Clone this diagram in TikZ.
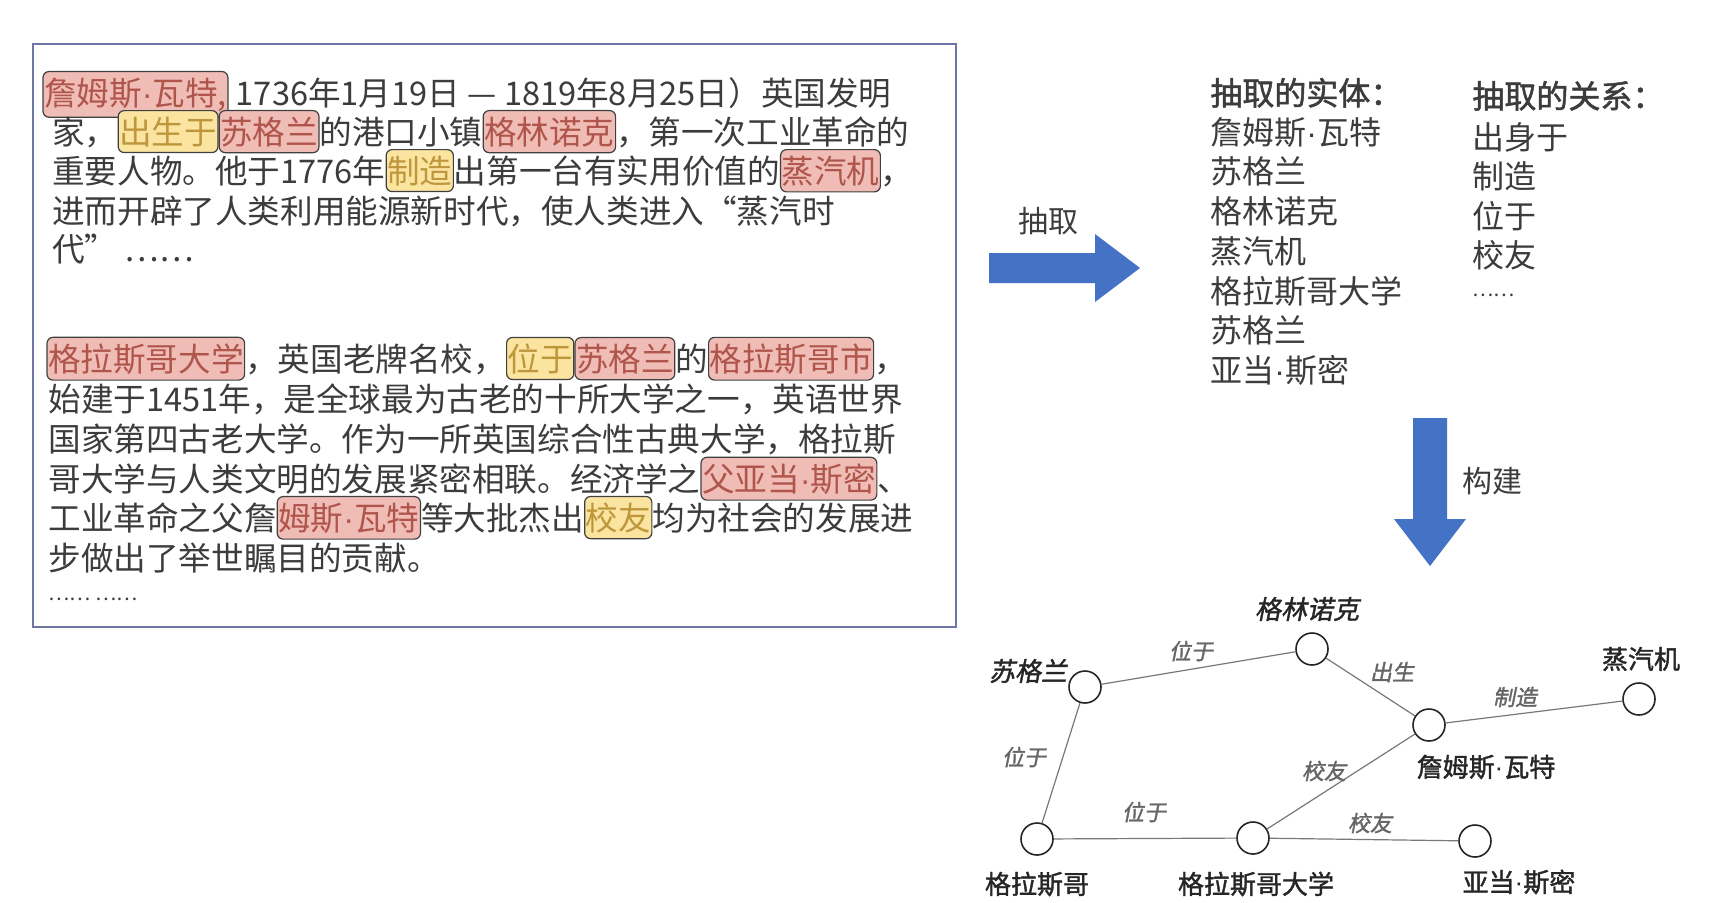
\documentclass[tikz,border=0pt]{standalone}
\usepackage{fontspec}
\setmainfont{Noto Sans CJK SC}
\newfontfamily\cjkit[FakeSlant=0.2,FakeBold=1.5]{Noto Sans CJK SC}
\newfontfamily\cjkbd[FakeBold=1.5]{Noto Sans CJK SC}
\newfontfamily\latdot{Liberation Sans}
\newcommand\md{{\latdot ·}}
\definecolor{txt}{RGB}{60,60,60}
\definecolor{hlred}{RGB}{240,188,182}
\definecolor{hlredt}{RGB}{175,85,75}
\definecolor{hlyel}{RGB}{250,228,160}
\definecolor{hlyelt}{RGB}{190,150,60}
\definecolor{framec}{RGB}{110,118,165}
\definecolor{arrowc}{RGB}{68,114,196}
\definecolor{edgec}{RGB}{120,120,120}
\tikzset{
 hlr/.style={fill=hlred,draw=black!75,rounded corners=3pt,inner xsep=0.5pt,inner ysep=3pt,text=hlredt,line width=0.6pt},
 hly/.style={fill=hlyel,draw=black!75,rounded corners=3pt,inner xsep=0.5pt,inner ysep=3pt,text=hlyelt,line width=0.6pt},
 line/.style={anchor=base west,inner sep=0,text=txt,font=\fontsize{16.3}{18}\selectfont},
 lst/.style={anchor=base west,inner sep=0,text=txt,font=\fontsize{16}{18}\selectfont},
 ent/.style={circle,draw=black!85,line width=0.8pt,minimum size=16pt,inner sep=0,fill=white},
 nlab/.style={text=black!85,font=\cjkbd\fontsize{13}{15}\selectfont},
 nlabi/.style={text=black!85,font=\cjkit\fontsize{13}{15}\selectfont},
 elab/.style={text=black!60,font=\cjkit\fontsize{11}{13}\selectfont},
 rel/.style={draw=edgec,line width=0.6pt},
 bigarrow/.style={fill=arrowc,draw=none}
}
\newcommand\hR[1]{\tikz[baseline=(hh.base)]\node[hlr](hh){#1};}
\newcommand\hY[1]{\tikz[baseline=(hh.base)]\node[hly](hh){#1};}
\begin{document}
\begin{tikzpicture}[x=0.5pt,y=-0.5pt]
\useasboundingbox (0,0) rectangle (1724,902);
\fill[white] (0,0) rectangle (1724,902);
\draw[framec,line width=1.2pt] (33,44) rectangle (956,627);
% paragraph 1
\node[line] (l1) at (42,105) {\hR{詹姆斯\md 瓦特,} 1736年1月19日 — 1819年8月25日）英国发明};
\node[line] (l2) at (52,144) {家，\hY{出生于}\hR{苏格兰}的港口小镇\hR{格林诺克}，第一次工业革命的};
\node[line] (l3) at (52,183) {重要人物。他于1776年\hY{制造}出第一台有实用价值的\hR{蒸汽机}，};
\node[line] (l4) at (52,223) {进而开辟了人类利用能源新时代，使人类进入“蒸汽时};
\node[line] (l5) at (52,261) {代” ……};
% paragraph 2
\node[line] (m1) at (46,371) {\hR{格拉斯哥大学}，英国老牌名校，\hY{位于}\hR{苏格兰}的\hR{格拉斯哥市}，};
\node[line] (m2) at (48,411) {始建于1451年，是全球最为古老的十所大学之一，英语世界};
\node[line] (m3) at (48,451) {国家第四古老大学。作为一所英国综合性古典大学，格拉斯};
\node[line] (m4) at (48,491) {哥大学与人类文明的发展紧密相联。经济学之\hR{父亚当\md 斯密}、};
\node[line] (m5) at (48,530) {工业革命之父詹\hR{姆斯\md 瓦特}等大批杰出\hY{校友}均为社会的发展进};
\node[line] (m6) at (48,570) {步做出了举世瞩目的贡献。};
\node[line,font=\fontsize{10}{12}\selectfont] (m7) at (48,600) {…… ……};
% arrow right
\fill[bigarrow] (989,253) -- (1095,253) -- (1095,234) -- (1140,268) -- (1095,302) -- (1095,283) -- (989,283) -- cycle;
\node[text=txt,font=\fontsize{15}{17}\selectfont] (ext) at (1048,221) {抽取};
% lists
\node[lst,font=\cjkbd\fontsize{16}{18}\selectfont] (eh) at (1210,105) {抽取的实体：};
\node[lst] (e1) at (1210,144) {詹姆斯\md 瓦特};
\node[lst] (e2) at (1210,183) {苏格兰};
\node[lst] (e3) at (1210,223) {格林诺克};
\node[lst] (e4) at (1210,263) {蒸汽机};
\node[lst] (e5) at (1210,303) {格拉斯哥大学};
\node[lst] (e6) at (1210,342) {苏格兰};
\node[lst] (e7) at (1210,382) {亚当\md 斯密};
\node[lst,font=\cjkbd\fontsize{16}{18}\selectfont] (rh) at (1472,108) {抽取的关系：};
\node[lst] (r1) at (1472,149) {出身于};
\node[lst] (r2) at (1472,188) {制造};
\node[lst] (r3) at (1472,228) {位于};
\node[lst] (r4) at (1472,267) {校友};
\node[lst,font=\fontsize{10}{12}\selectfont] (r5) at (1472,296) {……};
% arrow down
\fill[bigarrow] (1413,418) -- (1447,418) -- (1447,519) -- (1466,519) -- (1430,566) -- (1394,519) -- (1413,519) -- cycle;
\node[text=txt,font=\fontsize{15}{17}\selectfont] (bld) at (1492,481) {构建};
% graph
\node[ent] (sc) at (1085,687) {};
\node[ent] (gr) at (1312,649) {};
\node[ent] (jw) at (1429,725) {};
\node[ent] (se) at (1639,699) {};
\node[ent] (gc) at (1037,839) {};
\node[ent] (gu) at (1253,838) {};
\node[ent] (as) at (1475,841) {};
\draw[rel] (sc) -- (gr);
\draw[rel] (gr) -- (jw);
\draw[rel] (jw) -- (se);
\draw[rel] (sc) -- (gc);
\draw[rel] (gc) -- (gu);
\draw[rel] (gu) -- (jw);
\draw[rel] (gu) -- (as);
\node[nlabi] (tsc) at (1028,671) {苏格兰};
\node[nlabi] (tgr) at (1307,609) {格林诺克};
\node[nlab] (tse) at (1641,659) {蒸汽机};
\node[nlab] (tjw) at (1486,767) {詹姆斯\md 瓦特};
\node[nlab] (tgc) at (1037,884) {格拉斯哥};
\node[nlab] (tgu) at (1256,884) {格拉斯哥大学};
\node[nlab] (tas) at (1519,882) {亚当\md 斯密};
\node[elab] (e_a) at (1191,651) {位于};
\node[elab] (e_b) at (1392,672) {出生};
\node[elab] (e_c) at (1515,697) {制造};
\node[elab] (e_d) at (1024,757) {位于};
\node[elab] (e_e) at (1324,771) {校友};
\node[elab] (e_f) at (1144,812) {位于};
\node[elab] (e_g) at (1370,823) {校友};
\end{tikzpicture}
\end{document}
